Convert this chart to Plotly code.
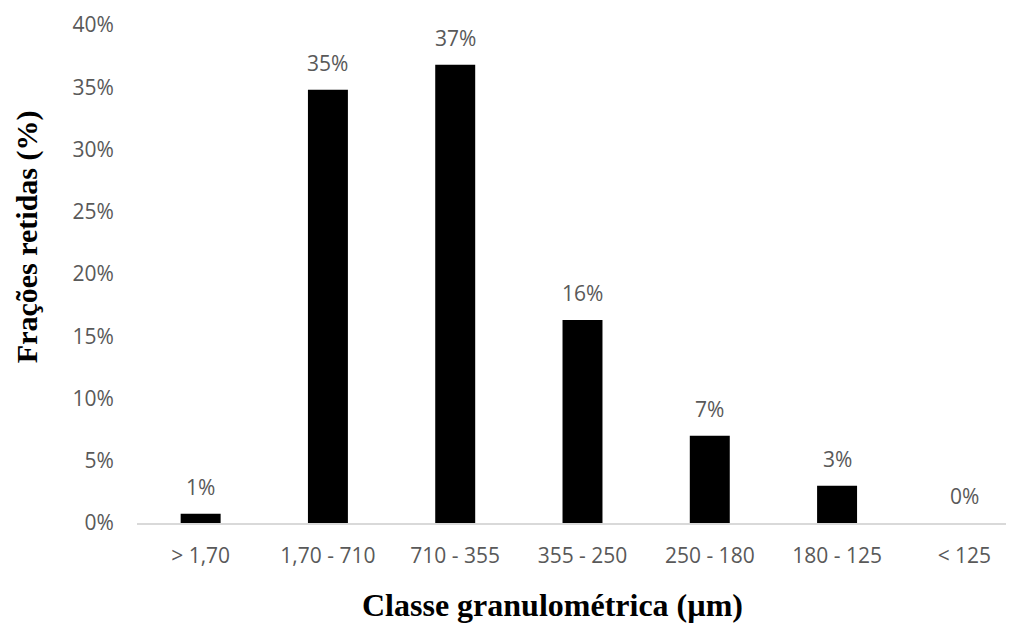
import plotly.graph_objects as go

categories = ["> 1,70", "1,70 - 710", "710 - 355", "355 - 250", "250 - 180", "180 - 125", "< 125"]
fractions = [0.0075, 0.348, 0.368, 0.163, 0.070, 0.030, 0.0]
y_ticks = [0, 0.05, 0.10, 0.15, 0.20, 0.25, 0.30, 0.35, 0.40]

label_color = "#595959"
tick_font = dict(family="Open Sans", size=21, color=label_color)

fig = go.Figure()
fig.add_trace(go.Bar(
    x=categories,
    y=fractions,
    marker=dict(color="black", line=dict(width=0)),
    width=0.314,
    hoverinfo="x+y",
))

annotations = []
for c, v in zip(categories, fractions):
    annotations.append(dict(
        x=c, y=v, xref="x", yref="y",
        text=f"{round(v*100):.0f}%",
        showarrow=False, yanchor="bottom", yshift=11,
        font=tick_font,
    ))

annotations.append(dict(
    x=0.474, y=-0.1647, xref="paper", yref="paper",
    text="<b>Classe granulométrica (µm)</b>", showarrow=False,
    xanchor="center", yanchor="middle",
    font=dict(family="Liberation Serif", size=32, color="black"),
))
annotations.append(dict(
    x=-0.1254, y=0.574, xref="paper", yref="paper",
    text="<b>Frações retidas (%)</b>", showarrow=False, textangle=-90,
    xanchor="center", yanchor="middle",
    font=dict(family="Liberation Serif", size=30, color="black"),
))

fig.update_layout(
    width=1006, height=629,
    margin=dict(l=129, r=0, t=17, b=114),
    paper_bgcolor="white", plot_bgcolor="white",
    showlegend=False,
    annotations=annotations,
    xaxis=dict(
        type="category",
        range=[-0.5, 6.39],
        showline=True, linecolor="#d9d9d9", linewidth=1.5,
        showgrid=False, zeroline=False,
        ticks="outside", ticklen=13, tickcolor="rgba(0,0,0,0)",
        tickfont=tick_font,
    ),
    yaxis=dict(
        range=[0, 0.40],
        tickvals=y_ticks,
        tickformat=".0%",
        showline=False, showgrid=False, zeroline=False,
        ticks="outside", ticklen=18, tickcolor="rgba(0,0,0,0)",
        tickfont=tick_font,
    ),
)

fig.write_html("out.html")
